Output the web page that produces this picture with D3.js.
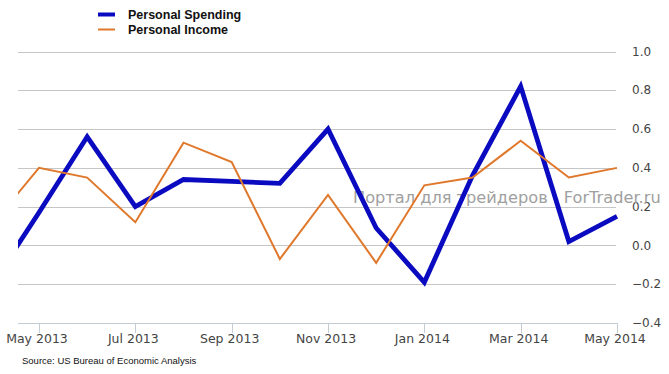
<!DOCTYPE html>
<html>
  <head>
    <meta charset="utf-8">
    <script src="https://d3js.org/d3.v7.min.js"></script>
    <style>
      body { margin: 0; background: #fff; }
      svg { display: block; }
    </style>
  </head>
  <body>
    <script>
        // monthly data, Apr 2013 .. May 2014 (% change)
        var months = ["Apr 2013","May 2013","Jun 2013","Jul 2013","Aug 2013","Sep 2013","Oct 2013",
                      "Nov 2013","Dec 2013","Jan 2014","Feb 2014","Mar 2014","Apr 2014","May 2014"]
        var spending = [-0.21, 0.17, 0.56, 0.20, 0.34, 0.33, 0.32, 0.60, 0.09, -0.19, 0.36, 0.82, 0.02, 0.15]
        var income   = [0.10, 0.40, 0.35, 0.12, 0.53, 0.43, -0.07, 0.26, -0.09, 0.31, 0.35, 0.54, 0.35, 0.40]
        var tickMonths = ["May 2013","Jul 2013","Sep 2013","Nov 2013","Jan 2014","Mar 2014","May 2014"]
        var yTicks = [1.0, 0.8, 0.6, 0.4, 0.2, 0.0, -0.2, -0.4]

        var width = 669, height = 374
        var left = 18, right = 616

        var svg = d3.select("body").append("svg")
            .attr("width", width)
            .attr("height", height)

        // month index: 1 = May 2013 -> 39px, 13 = May 2014 -> 617px
        var x = d3.scaleLinear().domain([1, 13]).range([39, 617])
        var y = d3.scaleLinear().domain([-0.4, 1.0]).range([323, 51.5])

        svg.append("defs").append("clipPath").attr("id", "plot")
            .append("rect")
            .attr("x", left).attr("y", 0)
            .attr("width", right - left + 2).attr("height", height)

        // gridlines
        svg.append("g").selectAll("line")
            .data(yTicks.slice(0, -1))
            .enter().append("line")
            .attr("x1", left).attr("x2", right)
            .attr("y1", function(d){ return Math.round(y(d)) + 0.5 })
            .attr("y2", function(d){ return Math.round(y(d)) + 0.5 })
            .attr("stroke", "#c6c6c6")
            .attr("stroke-width", 1)

        // right axis labels
        svg.append("g").selectAll("text")
            .data(yTicks)
            .enter().append("text")
            .attr("x", 632)
            .attr("y", function(d){ return y(d) })
            .attr("dy", "0.35em")
            .attr("font-family", "DejaVu Sans, Verdana, sans-serif")
            .attr("font-size", 12)
            .attr("fill", "#444")
            .text(function(d){ return d3.format(".1f")(d) })

        // bottom axis
        var xAxis = svg.append("g")
        xAxis.append("line")
            .attr("x1", left).attr("x2", 617)
            .attr("y1", 323.5).attr("y2", 323.5)
            .attr("stroke", "#c4ccd4")
        xAxis.selectAll(".tick")
            .data(tickMonths)
            .enter().append("line")
            .attr("x1", function(d){ return Math.round(x(months.indexOf(d))) + 0.5 })
            .attr("x2", function(d){ return Math.round(x(months.indexOf(d))) + 0.5 })
            .attr("y1", 323).attr("y2", 333)
            .attr("stroke", "#c4ccd4")
        xAxis.selectAll("text")
            .data(tickMonths)
            .enter().append("text")
            .attr("x", function(d){ return x(months.indexOf(d)) - 2 })
            .attr("y", 343)
            .attr("text-anchor", "middle")
            .attr("font-family", "DejaVu Sans, Verdana, sans-serif")
            .attr("font-size", 12.5)
            .attr("fill", "#444")
            .text(function(d){ return d })

        // watermark
        svg.append("text")
            .attr("x", 353).attr("y", 203)
            .attr("font-family", "DejaVu Sans, Verdana, sans-serif")
            .attr("font-size", 16.2)
            .attr("fill", "#a0a0a0")
            .text("Портал для трейдеров - ForTrader.ru")

        var line = d3.line()
            .x(function(d, i){ return x(i) })
            .y(function(d){ return y(d) })

        var g = svg.append("g").attr("clip-path", "url(#plot)")
        g.append("path")
            .attr("d", line(spending))
            .attr("fill", "none")
            .attr("stroke", "#0a0ac0")
            .attr("stroke-width", 4.8)
        g.append("path")
            .attr("d", line(income))
            .attr("fill", "none")
            .attr("stroke", "#e0782c")
            .attr("stroke-width", 2)

        // legend
        var legend = svg.append("g")
        var items = [["Personal Spending", "#0a0ac0", 4], ["Personal Income", "#e0782c", 2]]
        items.forEach(function(it, i){
            var ly = 14.5 + i * 15
            legend.append("line")
                .attr("x1", 98).attr("x2", 115)
                .attr("y1", ly).attr("y2", ly)
                .attr("stroke", it[1]).attr("stroke-width", it[2])
            legend.append("text")
                .attr("x", 128).attr("y", ly + 4.5)
                .attr("font-family", "Liberation Sans, Arial, sans-serif")
                .attr("font-weight", "bold")
                .attr("font-size", 12.5)
                .attr("fill", "#111")
                .text(it[0])
        })

        svg.append("text")
            .attr("x", 22).attr("y", 364)
            .attr("font-family", "Liberation Sans, Arial, sans-serif")
            .attr("font-size", 9.5)
            .attr("fill", "#111")
            .text("Source: US Bureau of Economic Analysis")
    </script>
  </body>
</html>
